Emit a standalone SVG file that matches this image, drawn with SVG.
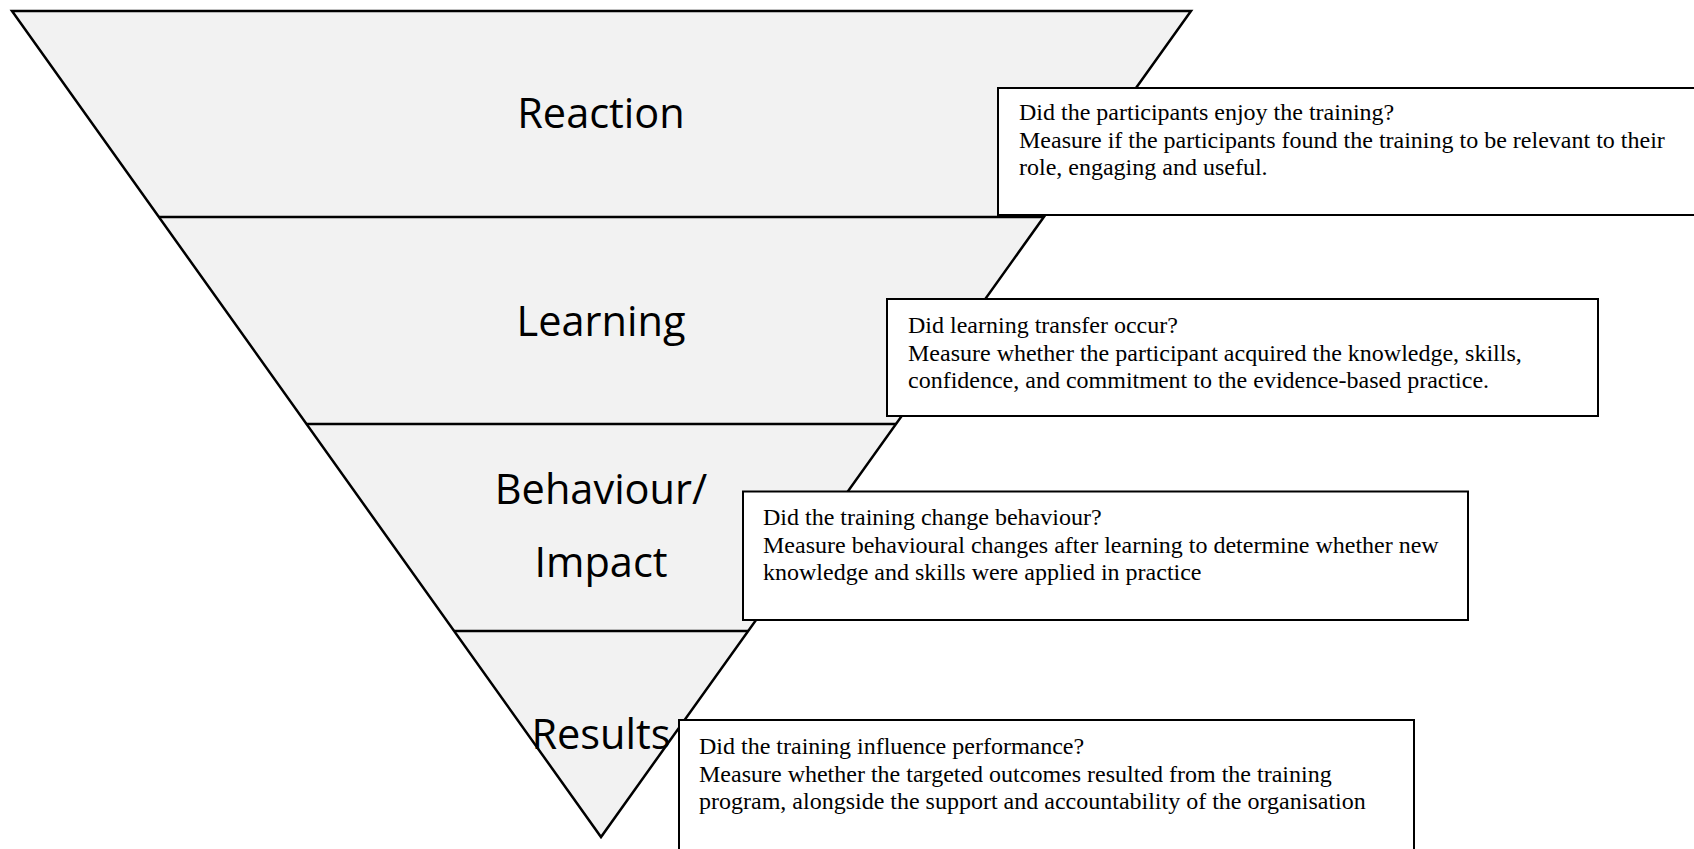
<svg xmlns="http://www.w3.org/2000/svg" width="1694" height="849" viewBox="0 0 1694 849">
<style>
.tri{fill:#F2F2F2;stroke:#000;stroke-width:2.5;stroke-linejoin:miter}
.sep{stroke:#000;stroke-width:2.5;fill:none}
.lvl{font-family:"Open Sans","Noto Sans",sans-serif;font-size:41.5px;fill:#000;text-anchor:middle}
.box{fill:#fff;stroke:#000;stroke-width:2}
.desc{font-family:"Liberation Serif","Times New Roman",serif;font-size:24px;fill:#000}
</style>
<rect width="1694" height="849" fill="#fff"/>
<g id="pyramid">
<polygon class="tri" points="12,11 1191,11 601,837"/>
<line class="sep" x1="158.9" y1="217" x2="1043.9" y2="217"/>
<line class="sep" x1="306.5" y1="424" x2="896" y2="424"/>
<line class="sep" x1="454.1" y1="631" x2="748.1" y2="631"/>
</g>
<g id="level-reaction"><text class="lvl" x="601" y="128">Reaction</text></g>
<g id="level-learning"><text class="lvl" x="601" y="336">Learning</text></g>
<g id="level-behaviour"><text class="lvl" x="601" y="504">Behaviour/</text><text class="lvl" x="601" y="577">Impact</text></g>
<g id="level-results"><text class="lvl" x="601" y="749">Results</text></g>
<g id="box-reaction">
<rect class="box" x="998" y="88" width="710" height="127"/>
<text class="desc" x="1019" y="120">Did the participants enjoy the training?</text>
<text class="desc" x="1019" y="147.6">Measure if the participants found the training to be relevant to their</text>
<text class="desc" x="1019" y="175.2">role, engaging and useful.</text>
</g>
<g id="box-learning">
<rect class="box" x="887" y="299" width="711" height="117"/>
<text class="desc" x="908" y="333">Did learning transfer occur?</text>
<text class="desc" x="908" y="360.6">Measure whether the participant acquired the knowledge, skills,</text>
<text class="desc" x="908" y="388.2">confidence, and commitment to the evidence-based practice.</text>
</g>
<g id="box-behaviour">
<rect class="box" x="743" y="491.5" width="725" height="128.5"/>
<text class="desc" x="763" y="525">Did the training change behaviour?</text>
<text class="desc" x="763" y="552.6">Measure behavioural changes after learning to determine whether new</text>
<text class="desc" x="763" y="580.2">knowledge and skills were applied in practice</text>
</g>
<g id="box-results">
<rect class="box" x="679" y="720" width="735" height="140"/>
<text class="desc" x="699" y="754">Did the training influence performance?</text>
<text class="desc" x="699" y="781.6">Measure whether the targeted outcomes resulted from the training</text>
<text class="desc" x="699" y="809.2">program, alongside the support and accountability of the organisation</text>
</g>
<g id="connectors"></g>
</svg>
